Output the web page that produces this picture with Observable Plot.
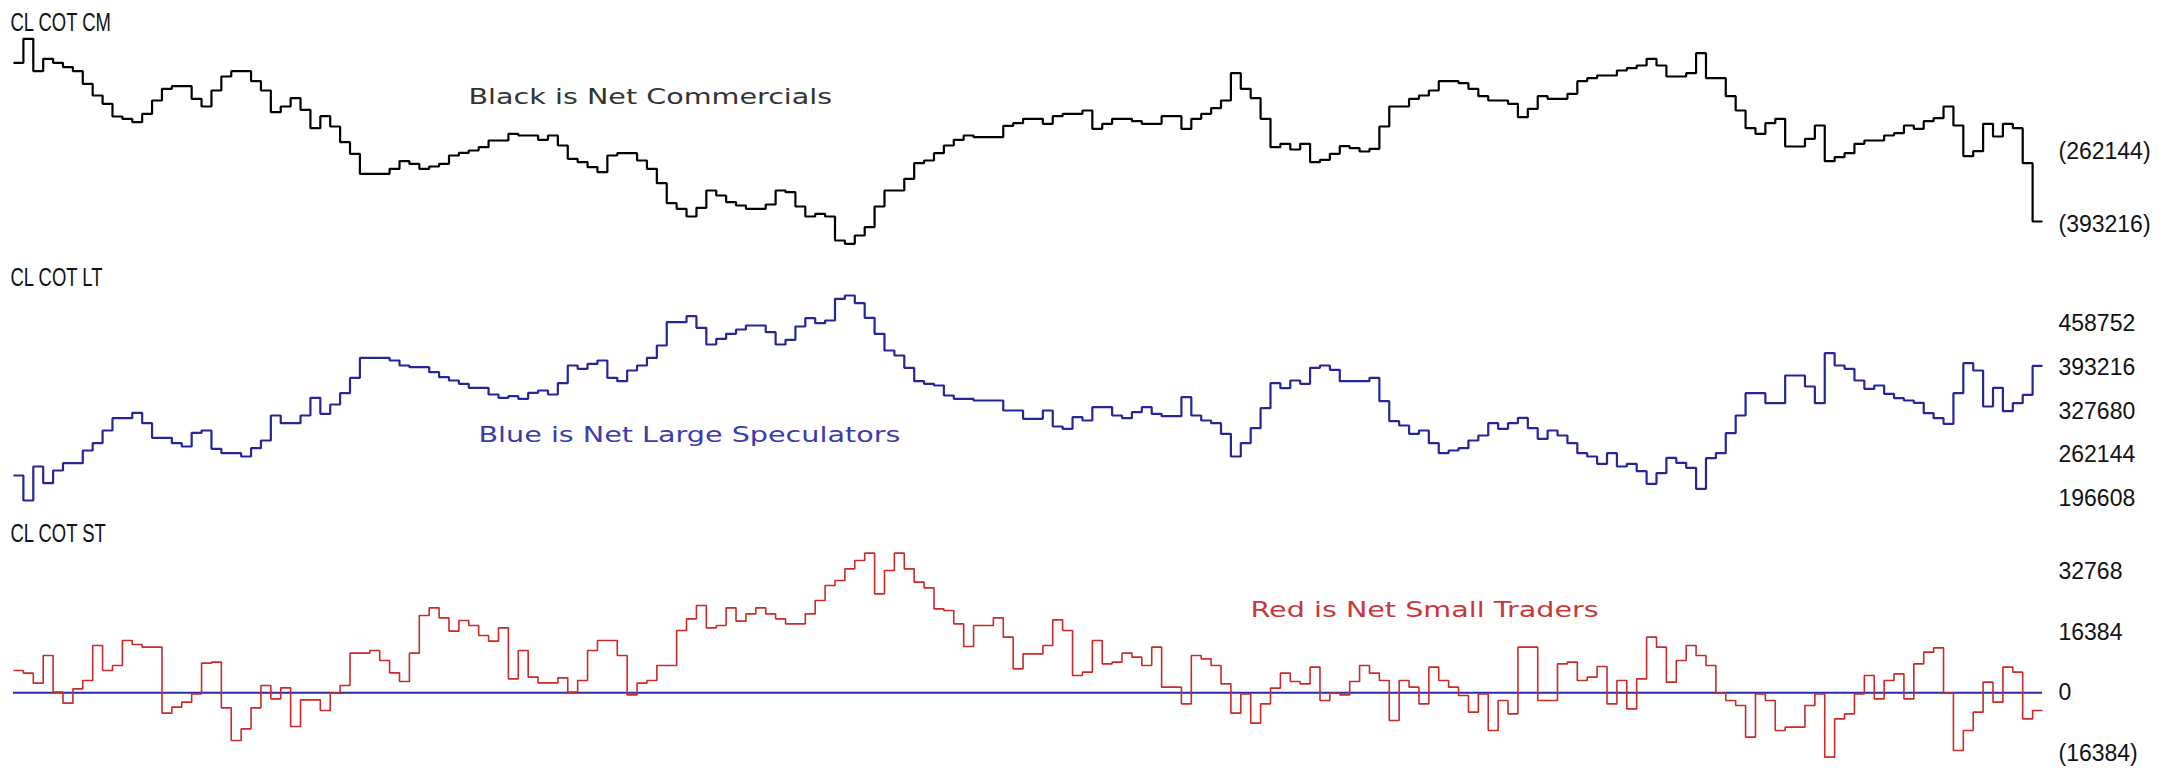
<!DOCTYPE html>
<html><head><meta charset="utf-8">
<script src="https://cdn.jsdelivr.net/npm/d3@7"></script>
<script src="https://cdn.jsdelivr.net/npm/@observablehq/plot@0.6"></script>
<style>
html,body{margin:0;padding:0;background:#fff;}
#chart{width:2170px;height:771px;position:relative;overflow:hidden;background:#fff;}
#chart svg{display:block;}
</style></head><body><div id="chart"></div>
<script>
// Net Commercials (CM), weekly
const cm = [
-102700,-59500,-117700,-95500,-102700,-110500,-117700,-140500,-161500,-176500,
-199300,-203500,-209500,-194500,-170500,-149500,-144700,-144700,-167500,-181300,
-152500,-127300,-117700,-117700,-135700,-152500,-191500,-181300,-166300,-187300,
-220300,-198700,-217300,-245500,-266500,-302500,-302500,-302500,-293500,-279700,
-284500,-293500,-289300,-284500,-269500,-264700,-260500,-254500,-242500,-242500,
-230500,-233500,-233500,-241300,-233500,-251500,-275500,-281500,-290500,-299500,
-269500,-265300,-265300,-278500,-293500,-319300,-355300,-365500,-379300,-363700,
-332500,-341500,-353500,-359500,-365500,-365500,-357700,-332500,-335500,
-361300,-379300,-374500,-379300,-422500,-428500,-413500,-398500,-361300,-332500,
-332500,-311500,-283300,-278500,-265300,-251500,-241300,-233500,-236500,-236500,
-236500,-216100,-211300,-203500,-203500,-212500,-198700,-194500,-194500,-188500,
-221500,-212500,-203500,-203500,-207700,-212500,-212500,-198700,-198700,-221500,
-203500,-194500,-184300,-170500,-121300,-149500,-166300,-203500,-254500,-248500,
-258700,-248500,-281500,-277300,-266500,-252700,-256300,-262300,-257500,-217300,
-181300,-181300,-167500,-161500,-152500,-135700,-135700,-139300,-149500,-162700,
-170500,-170500,-176500,-200500,-185500,-162700,-167500,-167500,-158500,-135700,
-130300,-125500,-125500,-116500,-112300,-107500,-95500,-107500,-127300,-127300,
-121300,-85300,-130300,-130300,-162700,-188500,-220300,-230500,-211300,-203500,
-253300,-253300,-239500,-215500,-279700,-272500,-265300,-248500,-242500,-242500,
-233500,-229300,-215500,-221500,-207700,-202300,-181300,-215500,-270700,-261700,
-212500,-235300,-212500,-220300,-283300,-388300
];
// Net Large Speculators (LT), weekly
const lt = [
231500,194000,245000,220000,239000,250000,250000,269000,280000,299000,
317500,317500,325500,310000,288000,288000,280000,275000,295500,299000,
271500,265000,265000,260000,272500,284000,321500,310000,310000,321500,
348000,324000,338000,355000,378000,408000,408000,408000,404000,396500,
394000,394000,386500,379000,374000,369000,363000,363000,353000,348000,
350500,346500,355500,359000,353000,370000,396500,391500,399000,404000,
378000,373000,389000,396500,408000,426500,461500,461500,470500,453000,
428000,436500,444000,450500,456500,456500,446500,428000,435000,
455000,467500,460000,464000,496500,501500,490000,468000,444000,419000,
411500,393000,373000,369000,366500,351500,346500,346500,344000,344000,
344000,329000,329000,316500,316500,329000,305000,301500,319000,314000,
334000,334000,321500,317500,326500,334000,324000,320500,320500,349000,
321500,314000,310000,294000,260000,280000,302500,332500,370000,362500,
374000,369000,393000,396500,390000,373000,373000,373000,378000,343000,
313000,306500,294000,299000,280000,265000,269000,272500,284000,291500,
310000,301500,310000,318000,302500,286500,299000,291500,280000,265000,
260000,249000,265000,245000,249000,238000,219000,235000,258000,250500,
243000,211500,257500,265000,295000,321500,355000,355000,340000,340000,
381500,381500,365000,340000,415000,396500,391500,374000,361500,366500,
354000,347500,344000,340500,325000,317500,309000,355000,400000,389000,
335000,363000,328000,340000,352400,395900
];
// Net Small Traders (ST), weekly
const st = [
6030,5310,2610,10080,180,-2790,1080,3330,12780,6030,
7380,14130,13050,12330,12330,-5490,-3870,-2520,-270,8010,
8280,-4050,-12870,-9720,-4050,1980,-1620,1350,-9090,-1890,
-1890,-4770,-90,1980,10710,10710,11430,8730,5400,3060,
10710,20880,22950,20250,16650,19530,18180,15480,13950,17550,
3780,11430,4230,2700,2700,4050,180,3330,11430,14130,
14130,10080,-540,2610,3330,7380,7380,16830,19980,23580,
17550,18180,22950,19350,21330,22950,21330,19980,18630,
18630,21330,24930,28980,30330,33480,35730,37710,26730,33030,
37710,33480,29880,28350,22680,22230,18630,12510,18180,18180,
20250,15030,6480,10530,10530,12780,19710,16830,4680,5580,
14130,7830,8280,10710,9630,7380,12330,1530,1530,-2970,
10080,9180,7380,2430,-5490,-270,-8190,-2970,1260,5310,
3060,2430,6930,-2070,-90,-540,3060,7380,5310,3330,
-7470,3330,1530,-2970,6930,3330,1530,-720,-5220,-270,
-10170,-2070,-5670,12330,12330,-2070,-2070,7830,8280,3330,
4230,7110,-2970,3330,-4320,3780,15030,12330,2880,8730,
12780,10080,7380,-90,-2070,-3420,-11970,-270,-2070,-10170,
-9270,-9270,-3420,-270,-17370,-7020,-5670,-270,4680,-1620,
3330,5130,-1620,7830,10980,12150,-90,-15570,-10170,-5220,
2880,-2520,6930,5580,-7020,-4770
];
const cmTicks = [-262144, -393216];
const ltTicks = [458752, 393216, 327680, 262144, 196608];
const stTicks = [32768, 16384, 0, -16384];
const titles = ["CL COT CM", "CL COT LT", "CL COT ST"];
const notes = ["Black is Net Commercials", "Blue is Net Large Speculators", "Red is Net Small Traders"];

const N = cm.length;
const fmt = v => v < 0 ? `(${-v})` : `${v}`;
// step-after rendering: each week spans [i, i+1]
const steps = arr => arr.map((v, i) => ({i, v})).concat([{i: arr.length, v: arr[arr.length - 1]}]);
const labelFont = "'Liberation Sans', Arial, Helvetica, sans-serif";
const noteFont = "'DejaVu Sans', Verdana, sans-serif";

function panel(o) {
  const marks = [
    Plot.axisY(o.ticks, {anchor: "right", label: null, tickSize: 0, tickPadding: 16, tickFormat: fmt,
      fill: "#111", fontSize: 23, textAnchor: "start"})
  ];
  if (o.zero) marks.push(Plot.ruleY([0], {x1: 0, x2: N, stroke: "#2b2ba6", strokeWidth: 2}));
  marks.push(
    Plot.line(steps(o.data), {x: "i", y: "v", curve: "step-after", stroke: o.color,
      strokeWidth: o.sw, strokeLinejoin: "miter", strokeLinecap: "butt"}),
    Plot.text([o.title], {frameAnchor: "top-left", dx: 10, dy: o.titleY, textAnchor: "start",
      lineAnchor: "middle", fontSize: 26, fill: "#111"}),
    Plot.text([o.note], {frameAnchor: "top-left", dx: o.noteX, dy: o.noteY, textAnchor: "start",
      lineAnchor: "middle", fontSize: 22, fontFamily: noteFont, fill: o.noteColor})
  );
  return Plot.plot({
    width: 2170, height: o.height,
    marginTop: 0, marginBottom: 0, marginLeft: 0, marginRight: 128,
    style: {background: "transparent", fontFamily: labelFont, fontSize: "23px", color: "#111", overflow: "visible"},
    x: {domain: [0, N], range: [13, 2042], axis: null},
    y: {domain: o.domain, range: o.range, axis: null},
    marks
  });
}

const chart = document.getElementById("chart");
chart.append(
  panel({height: 260, data: cm, domain: [-440500, -8500], range: [250, 10], ticks: cmTicks,
    color: "#000", sw: 2.2, title: titles[0], titleY: 22, note: notes[0], noteX: 468, noteY: 96, noteColor: "#333"}),
  panel({height: 255, data: lt, domain: [186500, 539000], range: [245, 10], ticks: ltTicks,
    color: "#262699", sw: 2.2, title: titles[1], titleY: 17.5, note: notes[1], noteX: 478, noteY: 174, noteColor: "#3b3bab"}),
  panel({height: 256, data: st, domain: [-19620, 45180], range: [250, 10], ticks: stTicks, zero: true,
    color: "#cc2a2a", sw: 1.6, title: titles[2], titleY: 18, note: notes[2], noteX: 1250, noteY: 94, noteColor: "#c93838"})
);
// the source text is drawn horizontally stretched (notes) or condensed (panel titles)
chart.querySelectorAll("text").forEach(t => {
  const s = t.textContent;
  let f = null;
  if (notes.includes(s)) f = 1.3;
  else if (titles.includes(s)) f = 0.71;
  if (f) {
    const L = t.getComputedTextLength();
    t.setAttribute("textLength", (L * f).toFixed(1));
    t.setAttribute("lengthAdjust", "spacingAndGlyphs");
  }
});
</script></body></html>
